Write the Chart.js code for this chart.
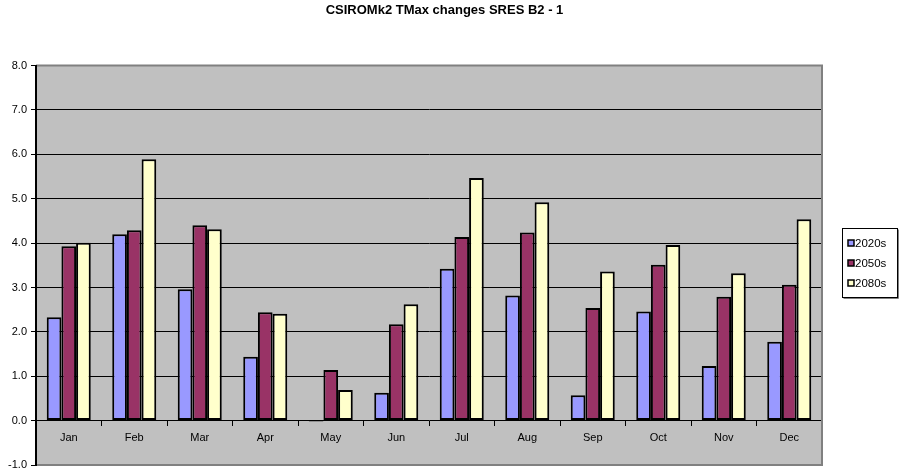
<!DOCTYPE html>
<html>
<head>
<meta charset="utf-8">
<title>CSIROMk2 TMax changes SRES B2 - 1</title>
<script src="https://cdn.jsdelivr.net/npm/chart.js@4.4.1/dist/chart.umd.min.js"></script>
<style>
  html, body { margin: 0; padding: 0; background: #ffffff; }
  #wrap { width: 899px; height: 471px; position: relative; }
</style>
</head>
<body>
<div id="wrap"><canvas id="chart" width="899" height="471"></canvas></div>
<script>
// Monthly changes in maximum temperature (degrees C)
const months = ['Jan', 'Feb', 'Mar', 'Apr', 'May', 'Jun', 'Jul', 'Aug', 'Sep', 'Oct', 'Nov', 'Dec'];
const seriesNames = ['2020s', '2050s', '2080s'];
const values2020s = [2.33, 4.20, 2.96, 1.44, -0.02, 0.63, 3.42, 2.82, 0.57, 2.46, 1.23, 1.78];
const values2050s = [3.93, 4.29, 4.40, 2.44, 1.14, 2.17, 4.14, 4.24, 2.54, 3.51, 2.79, 3.06];
const values2080s = [4.01, 5.89, 4.31, 2.41, 0.69, 2.62, 5.47, 4.92, 3.36, 3.96, 3.32, 4.54];
const yTicks = [-1, 0, 1, 2, 3, 4, 5, 6, 7, 8];

const fills = ['#9999FF', '#993366', '#FFFFCC'];
const FONT = 'Arial, "Liberation Sans", sans-serif';

// Grey plot background with a darker frame on the top, right and bottom
const plotFrame = {
  id: 'plotFrame',
  beforeDraw(chart) {
    const { ctx, chartArea: a } = chart;
    ctx.save();
    ctx.fillStyle = '#C0C0C0';
    ctx.fillRect(a.left, a.top, a.right - a.left, a.bottom - a.top);
    ctx.restore();
  },
  afterDatasetsDraw(chart) {
    const { ctx, chartArea: a } = chart;
    ctx.save();
    ctx.strokeStyle = '#808080';
    ctx.lineWidth = 2;
    ctx.beginPath();
    ctx.moveTo(a.left, a.top);
    ctx.lineTo(a.right, a.top);
    ctx.lineTo(a.right, a.bottom);
    ctx.lineTo(a.left, a.bottom);
    ctx.stroke();
    ctx.restore();
  }
};

// Boxed legend to the right of the plot
const boxedLegend = {
  id: 'boxedLegend',
  afterDraw(chart) {
    const { ctx } = chart;
    const sets = chart.data.datasets;
    const x = 842.5, y = 228.5, w = 55, rowH = 20, h = 69;
    ctx.save();
    ctx.fillStyle = '#ffffff';
    ctx.fillRect(x, y, w, h);
    ctx.strokeStyle = '#000000';
    ctx.lineWidth = 1;
    ctx.strokeRect(x, y, w, h);
    ctx.strokeStyle = '#808080';
    ctx.beginPath();
    ctx.moveTo(x + w + 1, y + 1);
    ctx.lineTo(x + w + 1, y + h + 1);
    ctx.lineTo(x + 1, y + h + 1);
    ctx.stroke();
    ctx.font = '11.5px ' + FONT;
    ctx.textBaseline = 'middle';
    sets.forEach((ds, i) => {
      const cy = y + 14.5 + i * rowH;
      ctx.fillStyle = ds.backgroundColor;
      ctx.fillRect(848, cy - 3, 6, 6);
      ctx.strokeStyle = '#000000';
      ctx.lineWidth = 1.5;
      ctx.strokeRect(848, cy - 3, 6, 6);
      ctx.fillStyle = '#000000';
      ctx.textAlign = 'left';
      ctx.fillText(ds.label, 855, cy + 0.5);
    });
    ctx.restore();
  }
};

const seriesValues = [values2020s, values2050s, values2080s];

new Chart(document.getElementById('chart'), {
  type: 'bar',
  data: {
    labels: months,
    datasets: seriesNames.map((name, i) => ({
      label: name,
      data: seriesValues[i],
      backgroundColor: fills[i],
      borderColor: '#000000',
      borderWidth: 2,
      borderSkipped: false,
      barPercentage: 1.0,
      categoryPercentage: 0.672
    }))
  },
  options: {
    responsive: false,
    animation: false,
    devicePixelRatio: 1,
    layout: { padding: { left: 0, right: 10, top: 0, bottom: 6 } },
    plugins: {
      legend: { display: false },
      tooltip: { enabled: false },
      title: {
        display: true,
        text: 'CSIROMk2 TMax changes SRES B2 - 1',
        color: '#000000',
        font: { family: FONT, size: 13, weight: 'bold' },
        padding: { top: 3, bottom: 47 }
      }
    },
    scales: {
      x: {
        type: 'category',
        position: { y: 0 },
        afterFit(scale) { scale.paddingTop = 0; scale.paddingBottom = 0; },
        grid: {
          offset: true,
          drawOnChartArea: false,
          drawTicks: true,
          tickLength: 5,
          tickColor: '#000000',
          tickWidth: 1
        },
        border: { display: false },
        ticks: {
          color: '#000000',
          font: { family: FONT, size: 11 },
          padding: 6,
          maxRotation: 0,
          autoSkip: false
        }
      },
      y: {
        type: 'linear',
        position: 'left',
        min: -1,
        max: 8,
        afterBuildTicks(scale) { scale.ticks = yTicks.map(v => ({ value: v })); },
        afterFit(scale) {
          scale.width = 36;
          scale.paddingTop = 0;
          scale.paddingBottom = 0;
        },
        grid: {
          color: ctx => (ctx.tick && (ctx.tick.value === 8 || ctx.tick.value === -1)) ? 'rgba(0,0,0,0)' : '#000000',
          lineWidth: 1,
          drawTicks: true,
          tickLength: 5,
          tickColor: '#000000'
        },
        border: { display: true, color: '#000000', width: 2, z: 1 },
        ticks: {
          color: '#000000',
          font: { family: FONT, size: 11 },
          padding: 4,
          callback: v => Number(v).toFixed(1)
        }
      },
      legendSpace: {
        type: 'linear',
        position: 'right',
        display: true,
        grid: { display: false },
        border: { display: false },
        ticks: { display: false },
        afterFit(scale) { scale.width = 67; }
      }
    }
  },
  plugins: [plotFrame, boxedLegend]
});
</script>
</body>
</html>
